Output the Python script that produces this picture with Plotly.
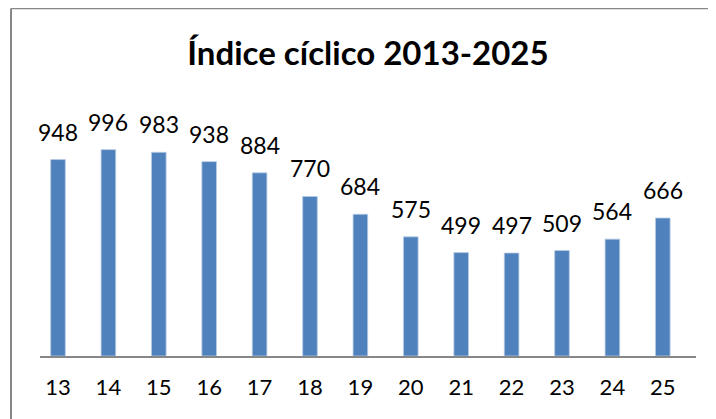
import plotly.graph_objects as go

years = ["13", "14", "15", "16", "17", "18", "19", "20", "21", "22", "23", "24", "25"]
indice = [948, 996, 983, 938, 884, 770, 684, 575, 499, 497, 509, 564, 666]

BAR_COLOR = "#4F81BD"
LINE_GRAY = "#878787"
FONT = "Lato"

fig = go.Figure()
fig.add_trace(go.Bar(
    x=list(range(len(years))), y=indice,
    width=0.29,
    marker=dict(color=BAR_COLOR, line=dict(color="#b8cbe4", width=0.8)),
    hoverinfo="skip",
))

# value labels above each bar
for i, v in enumerate(indice):
    fig.add_annotation(x=i, y=v, text=str(v), showarrow=False,
                       yanchor="bottom", yshift=12,
                       font=dict(family=FONT, size=23, color="#000000"))

# chart frame (only left and top edges visible in the crop)
fig.add_shape(type="line", xref="paper", yref="paper",
              x0=-0.0442, x1=-0.0442, y0=-0.3, y1=1.357,
              line=dict(color=LINE_GRAY, width=2))
fig.add_shape(type="line", xref="paper", yref="paper",
              x0=-0.0442, x1=1.1, y0=1.357, y1=1.357,
              line=dict(color=LINE_GRAY, width=1.5))

# page body has an 8px margin, so the figure is 8px smaller and shifted
fig.update_layout(
    width=708, height=411,
    margin=dict(l=32, r=20, t=92, b=63),
    paper_bgcolor="white", plot_bgcolor="white",
    showlegend=False,
    title=dict(text="Índice cíclico 2013-2025", x=0.5, xref="paper",
               y=1 - 45 / 411, yanchor="middle",
               font=dict(family=FONT, size=33, color="#000000", weight="bold")),
    xaxis=dict(range=[-0.357, 12.659], tickmode="array",
               tickvals=list(range(len(years))), ticktext=years,
               showline=True, linecolor=LINE_GRAY, linewidth=2,
               showgrid=False, zeroline=False, ticks="",
               ticklabelstandoff=11,
               tickfont=dict(family=FONT, size=22, color="#000000")),
    yaxis=dict(range=[0, 1235.5], visible=False, showgrid=False, zeroline=False),
)

fig.write_html("out.html")
